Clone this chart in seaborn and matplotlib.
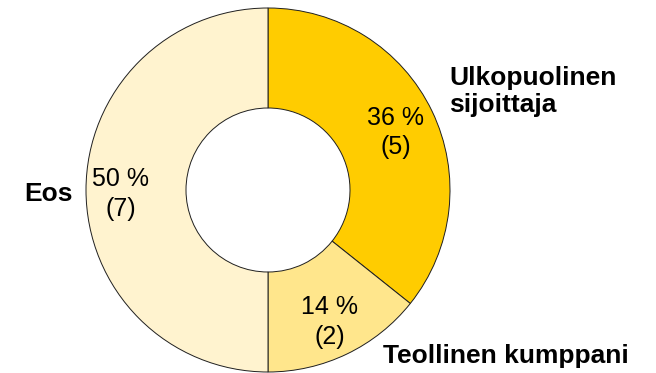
import matplotlib
matplotlib.use("Agg")
import matplotlib.pyplot as plt
import numpy as np
import seaborn as sns

# Responses: outside investor, industrial partner, don't know
categories = ["Ulkopuolinen\nsijoittaja", "Teollinen kumppani", "Eos"]
counts = [5, 2, 7]
percents = [36, 14, 50]
colors = ["#FFCC00", "#FFE68C", "#FFF3CF"]

sns.set_theme(style="white")
plt.rcParams["font.family"] = ["Liberation Sans", "DejaVu Sans"]

W, H = 656, 373
fig = plt.figure(figsize=(W / 100, H / 100), dpi=100)
ax = fig.add_axes([0, 0, 1, 1])

# work in pixel-sized data units (y measured up from the bottom edge)
cx, cy, R, r_in = 268, H - 190, 182, 82

pct_labels = iter(zip(percents, counts))


def fmt(_):
    p, n = next(pct_labels)
    return f"{p} %\n({n})"


wedges, _, autotexts = ax.pie(
    counts,
    colors=colors,
    startangle=90,
    counterclock=False,
    center=(cx, cy),
    radius=R,
    autopct=fmt,
    pctdistance=0.78,
    wedgeprops=dict(width=R - r_in, edgecolor="#1f1f1f", linewidth=0.7),
    textprops=dict(fontsize=18, color="black", linespacing=1.3),
)

# radial position of each value label, as a fraction of the outer radius,
# nudged a little downward so the two lines sit optically centred
label_dist = [0.78, 0.78, 0.81]
nudge = -4
for w, t, d in zip(wedges, autotexts, label_dist):
    mid = np.deg2rad((w.theta1 + w.theta2) / 2)
    t.set_position((cx + d * R * np.cos(mid), cy + d * R * np.sin(mid) + nudge))

ax.set_xlim(0, W)
ax.set_ylim(0, H)
ax.set_aspect("equal")
ax.axis("off")

# category names beside their slices
label_style = dict(fontsize=19, fontweight="bold", color="black", va="baseline")
first, second = categories[0].split("\n")
ax.text(449, H - 85, first, ha="left", **label_style)
ax.text(449, H - 112, second, ha="left", **label_style)
ax.text(383, H - 363, categories[1], ha="left", **label_style)
ax.text(73, H - 201, categories[2], ha="right", **label_style)

fig.savefig("out.png", dpi=100, facecolor="white")
